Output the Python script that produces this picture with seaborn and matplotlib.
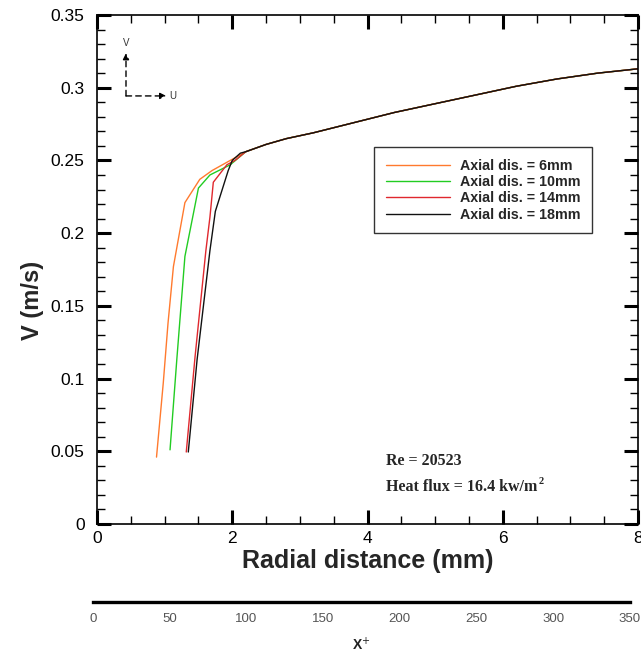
import numpy as np
import pandas as pd
import matplotlib
matplotlib.use("Agg")
import matplotlib.pyplot as plt
from matplotlib.ticker import MultipleLocator
import seaborn as sns

# Near-wall part of each velocity profile (radial distance in mm, V in m/s)
r_6mm = [0.88, 0.98, 1.05, 1.13, 1.30, 1.52, 1.70, 1.97]
v_6mm = [0.046, 0.097, 0.138, 0.177, 0.221, 0.237, 0.243, 0.250]
r_10mm = [1.08, 1.18, 1.30, 1.50, 1.67, 1.97]
v_10mm = [0.051, 0.113, 0.184, 0.231, 0.240, 0.247]
r_14mm = [1.32, 1.45, 1.61, 1.67, 1.72, 1.92, 2.04]
v_14mm = [0.0495, 0.115, 0.188, 0.211, 0.235, 0.247, 0.250]
r_18mm = [1.35, 1.48, 1.67, 1.75, 1.94, 2.00, 2.12]
v_18mm = [0.0495, 0.113, 0.188, 0.215, 0.243, 0.250, 0.255]

# Core region, shared by all axial stations
r_core = [2.20, 2.50, 2.80, 3.20, 3.80, 4.40, 5.00, 5.60, 6.20, 6.80, 7.40, 8.00]
v_core = [0.256, 0.261, 0.265, 0.269, 0.276, 0.283, 0.289, 0.295, 0.301, 0.306, 0.310, 0.313]

series_names = ["Axial dis. = 6mm", "Axial dis. = 10mm",
                "Axial dis. = 14mm", "Axial dis. = 18mm"]
series_colors = ["#FF7A2E", "#22CC22", "#E0282E", "#111111"]
xplus_ticks = [0, 50, 100, 150, 200, 250, 300, 350]

frames = []
for name, r, v in zip(series_names,
                      [r_6mm, r_10mm, r_14mm, r_18mm],
                      [v_6mm, v_10mm, v_14mm, v_18mm]):
    frames.append(pd.DataFrame({"r": r + r_core, "V": v + v_core, "case": name}))
df = pd.concat(frames, ignore_index=True)

sns.set_theme(style="ticks")
plt.rcParams["font.family"] = ["Liberation Sans", "DejaVu Sans"]

fig = plt.figure(figsize=(6.41, 6.56), dpi=100)
W, H = 641, 656
ax = fig.add_axes([97 / W, 1 - 524 / H, (638 - 97) / W, (524 - 15) / H])

sns.lineplot(data=df, x="r", y="V", hue="case", hue_order=series_names,
             palette=series_colors, sort=False, estimator=None,
             linewidth=1.0, ax=ax)

ax.set_xlim(0, 8)
ax.set_ylim(0, 0.35)
ax.xaxis.set_major_locator(MultipleLocator(2))
ax.xaxis.set_minor_locator(MultipleLocator(0.5))
ax.yaxis.set_major_locator(MultipleLocator(0.05))
ax.yaxis.set_minor_locator(MultipleLocator(0.01))
ax.set_yticks(np.arange(0, 0.351, 0.05))
ax.set_yticklabels(["0", "0.05", "0.1", "0.15", "0.2", "0.25", "0.3", "0.35"])
ax.tick_params(which="both", direction="in", top=True, right=True, colors="black")
ax.tick_params(which="major", length=10, width=2.2, labelsize=12.5)
ax.tick_params(which="minor", length=6, width=1.0)
ax.tick_params(axis="x", which="major", pad=5)
ax.tick_params(axis="y", which="major", pad=9)
for s in ax.spines.values():
    s.set_linewidth(1.2)
    s.set_color("black")

ax.set_xlabel("Radial distance (mm)", fontsize=18, fontweight="bold")
ax.set_ylabel("V (m/s)", fontsize=17, fontweight="bold")
ax.xaxis.label.set_va("center")
ax.xaxis.set_label_coords(0.5, (524 - 561) / 509)
ax.yaxis.label.set_va("center")
ax.yaxis.set_label_coords((33 - 97) / 541, (524 - 300) / 509)

leg = ax.legend(loc="upper left", bbox_to_anchor=(0.512, 0.740),
                frameon=True, fancybox=False, handlelength=4.5,
                prop={"weight": "bold", "size": 10.3}, borderpad=0.82,
                labelspacing=0.15, handletextpad=0.7, borderaxespad=0)
leg.get_frame().set_edgecolor("black")
leg.get_frame().set_linewidth(1.0)
for line in leg.get_lines():
    line.set_linewidth(1.0)

# Flow direction indicator
arrow_kw = dict(arrowstyle="-|>", linestyle=(0, (4, 3)), color="black",
                lw=1.0, mutation_scale=9, shrinkA=0, shrinkB=0)
ax.annotate("", xy=(0.0536, 0.925), xytext=(0.0536, 0.841),
            xycoords="axes fraction", arrowprops=arrow_kw)
ax.annotate("", xy=(0.128, 0.841), xytext=(0.0536, 0.841),
            xycoords="axes fraction", arrowprops=arrow_kw)
ax.text(0.0536, 0.945, "V", transform=ax.transAxes, fontsize=7,
        ha="center", va="center", color="#333333")
ax.text(0.140, 0.841, "U", transform=ax.transAxes, fontsize=7,
        ha="center", va="center", color="#333333")

serif = ["Liberation Serif", "DejaVu Serif"]
ax.text(0.535, 0.124, "Re = 20523", transform=ax.transAxes, family=serif,
        fontsize=11.5, fontweight="bold", ha="left", va="center")
hf = ax.text(0.535, 0.072, "Heat flux = 16.4 kw/m", transform=ax.transAxes,
             family=serif, fontsize=11.5, fontweight="bold", ha="left", va="center")
ax.annotate("2", xy=(1.0, 1.0), xycoords=hf, xytext=(0.5, 1.5),
            textcoords="offset points", family=serif, fontsize=7.5,
            fontweight="bold", ha="left", va="top")

# Dimensionless wall distance scale below the plot
ax2 = fig.add_axes([93 / W, 1 - 602 / H, (630 - 93) / W, 0.0001])
ax2.set_xlim(0, 350)
ax2.set_xticks(xplus_ticks)
ax2.set_xticklabels([str(t) for t in xplus_ticks],
                    family=["Liberation Sans Narrow", "Liberation Sans"])
ax2.set_yticks([])
for side in ["top", "left", "right"]:
    ax2.spines[side].set_visible(False)
ax2.spines["bottom"].set_linewidth(2.4)
ax2.spines["bottom"].set_color("black")
ax2.tick_params(axis="x", length=0, pad=8, labelsize=9.5, labelcolor="#555555")
ax2.set_xlabel("X$^{+}$", fontsize=10, fontweight="bold", labelpad=8, color="#222222")
ax2.patch.set_visible(False)

fig.savefig("out.png", dpi=100)
